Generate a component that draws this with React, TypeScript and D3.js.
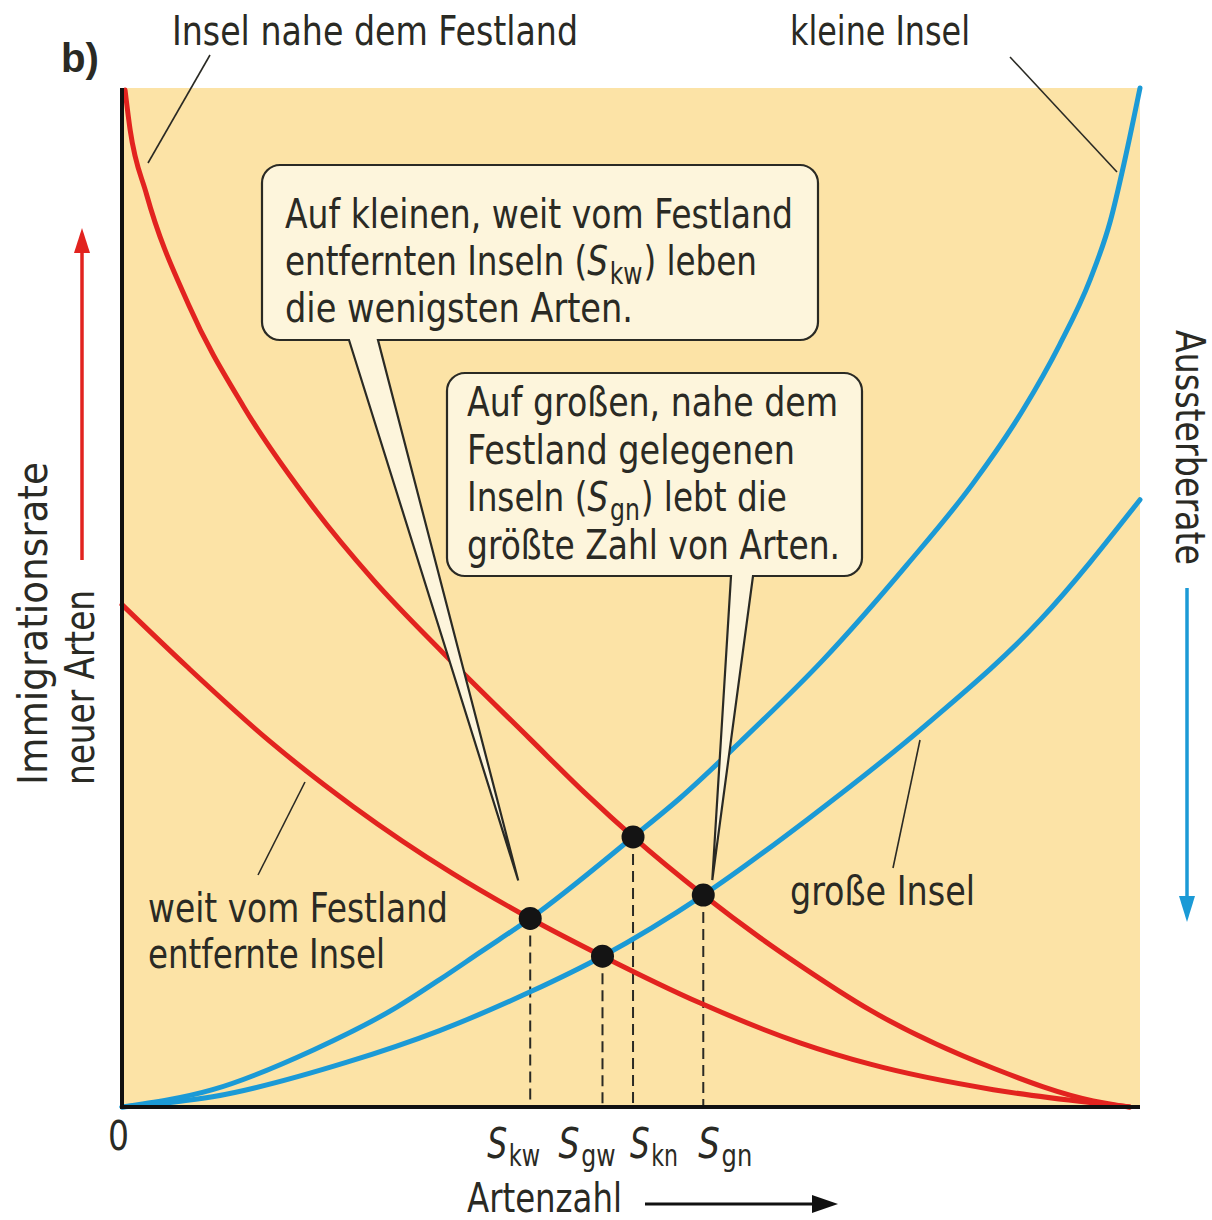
import React, { useEffect, useRef } from 'react'
import * as d3 from 'd3'

// Artenzahl (x) und Rate (y) in relativen Einheiten 0..100
// Immigrationsrate: Insel nahe dem Festland
const nearX = [0.3, 0.8, 2.4, 6.6, 11.9, 18.9, 24.7, 31.5, 40.0, 45.7, 50.2, 57.1, 62.7, 66.6, 73.5, 85.6, 95.4, 99.0]
const nearY = [99.8, 95.9, 89.6, 78.6, 68.8, 58.7, 51.7, 44.6, 36.2, 30.6, 26.5, 20.8, 16.6, 13.9, 9.5, 3.8, 0.6, 0]

// Immigrationsrate: weit vom Festland entfernte Insel
const farX = [0, 6.4, 14.5, 22.7, 32.5, 40.1, 47.2, 56.8, 66.6, 73.5, 85.6, 95.4, 99.0]
const farY = [49.3, 43.2, 35.9, 29.5, 22.9, 18.5, 14.8, 10.2, 6.3, 4.2, 1.7, 0.4, 0]

// Aussterberate: kleine Insel
const smallX = [0, 8.9, 18.8, 27.0, 31.2, 35.2, 40.1, 50.2, 54.8, 60.7, 68.9, 77.1, 83.6, 88.5, 92.1, 95.1, 97.1, 98.5, 100]
const smallY = [0, 1.7, 5.6, 9.8, 12.5, 15.2, 18.5, 26.5, 30.3, 35.8, 43.9, 53.2, 61.2, 68.4, 74.8, 81.2, 87.0, 92.9, 100]

// Aussterberate: große Insel
const largeX = [0, 8.9, 22.1, 31.2, 40.1, 47.2, 57.1, 67.3, 79.1, 90.2, 100]
const largeY = [0, 1.0, 4.4, 7.5, 11.3, 14.8, 20.8, 28.2, 37.6, 47.8, 59.6]

// Gleichgewichtspunkte
const eqNames = ['kw', 'gw', 'kn', 'gn']
const eqX = [40.1, 47.2, 50.2, 57.1]
const eqY = [18.5, 14.8, 26.5, 20.8]

const W = 1212
const H = 1220
const plot = { left: 122, top: 88, right: 1140, bottom: 1107 }

const FONT = "'Liberation Sans Narrow', 'DejaVu Sans Condensed', 'Arial Narrow', sans-serif"
const RED = '#e2231f'
const BLUE = '#1b9ad6'
const BG = '#fce3a6'
const INK = '#2a2a24'
const BUBBLE = '#fdf5dc'

type Seg = { t: string, i?: boolean, sub?: boolean }

const bubble1: Seg[][] = [
    [{ t: 'Auf kleinen, weit vom Festland' }],
    [{ t: 'entfernten Inseln (' }, { t: 'S', i: true }, { t: 'kw', sub: true }, { t: ') leben' }],
    [{ t: 'die wenigsten Arten.' }],
]
const bubble2: Seg[][] = [
    [{ t: 'Auf großen, nahe dem' }],
    [{ t: 'Festland gelegenen' }],
    [{ t: 'Inseln (' }, { t: 'S', i: true }, { t: 'gn', sub: true }, { t: ') lebt die' }],
    [{ t: 'größte Zahl von Arten.' }],
]
// Zeilenbreiten wie in der Vorlage
const bubble1Len = [508, 472, 348]
const bubble2Len = [371, 328, 320, 373]

export default function App() {
    const ref = useRef<SVGSVGElement>(null)

    useEffect(() => {
        const svg = d3.select(ref.current)
        svg.selectAll('*').remove()

        const x = d3.scaleLinear().domain([0, 100]).range([plot.left, plot.right])
        const y = d3.scaleLinear().domain([0, 100]).range([plot.bottom, plot.top])

        const line = d3.line<number[]>()
            .x(d => x(d[0]))
            .y(d => y(d[1]))
            .curve(d3.curveMonotoneX)

        // Hintergrund
        svg.append('rect')
            .attr('x', plot.left).attr('y', plot.top)
            .attr('width', plot.right - plot.left)
            .attr('height', plot.bottom - plot.top)
            .attr('fill', BG)

        // gestrichelte Lote
        svg.selectAll('line.drop')
            .data(eqX)
            .enter().append('line')
            .attr('class', 'drop')
            .attr('x1', d => x(d)).attr('x2', d => x(d))
            .attr('y1', (d, i) => y(eqY[i])).attr('y2', plot.bottom)
            .attr('stroke', INK).attr('stroke-width', 2)
            .attr('stroke-dasharray', '11,6')

        const curves = [
            { xs: farX, ys: farY, c: RED },
            { xs: nearX, ys: nearY, c: RED },
            { xs: largeX, ys: largeY, c: BLUE },
            { xs: smallX, ys: smallY, c: BLUE },
        ]
        curves.forEach(cv => {
            svg.append('path')
                .attr('d', line(cv.xs.map((v, i) => [v, cv.ys[i]])))
                .attr('fill', 'none')
                .attr('stroke', cv.c)
                .attr('stroke-width', 5)
                .attr('stroke-linecap', 'round')
        })

        // Sprechblasen
        const bubblePath = (x0, y0, x1, y1, r, bl, br, tx, ty) =>
            `M${x0 + r},${y0} H${x1 - r} A${r},${r} 0 0 1 ${x1},${y0 + r} V${y1 - r} A${r},${r} 0 0 1 ${x1 - r},${y1}` +
            ` H${br} L${tx},${ty} L${bl},${y1} H${x0 + r} A${r},${r} 0 0 1 ${x0},${y1 - r} V${y0 + r} A${r},${r} 0 0 1 ${x0 + r},${y0} Z`

        const drawText = (g, lines: Seg[][], lens: number[], tx, ty, lh, size) => {
            lines.forEach((ln, li) => {
                const t = g.append('text')
                    .attr('x', tx).attr('y', ty + li * lh)
                    .attr('font-family', FONT).attr('font-size', size)
                    .attr('fill', INK)
                    .attr('textLength', lens[li])
                    .attr('lengthAdjust', 'spacingAndGlyphs')
                let shifted = false
                ln.forEach(s => {
                    const sp = t.append('tspan').text(s.t)
                    if (s.i) sp.attr('font-style', 'italic')
                    if (s.sub) {
                        sp.attr('font-size', size * 0.72).attr('dy', size * 0.22).attr('dx', 2)
                        shifted = true
                    } else if (shifted) {
                        sp.attr('dy', -size * 0.22).attr('dx', 1)
                        shifted = false
                    }
                })
            })
        }

        const b1 = svg.append('g')
        b1.append('path')
            .attr('d', bubblePath(262, 165, 818, 340, 18, 349, 378, x(eqX[0]) - 12, y(eqY[0]) - 38))
            .attr('fill', BUBBLE).attr('stroke', INK).attr('stroke-width', 2.2)
        drawText(b1, bubble1, bubble1Len, 285, 228, 47, 41)

        const b2 = svg.append('g')
        b2.append('path')
            .attr('d', bubblePath(447, 373, 862, 576, 18, 731, 753, x(eqX[3]) + 9, y(eqY[3]) - 15))
            .attr('fill', BUBBLE).attr('stroke', INK).attr('stroke-width', 2.2)
        drawText(b2, bubble2, bubble2Len, 467, 416, 47.5, 41)

        // Achsen
        svg.append('line')
            .attr('x1', plot.left).attr('x2', plot.left)
            .attr('y1', plot.top).attr('y2', plot.bottom + 2)
            .attr('stroke', '#111').attr('stroke-width', 4)
        svg.append('line')
            .attr('x1', plot.left).attr('x2', plot.right)
            .attr('y1', plot.bottom).attr('y2', plot.bottom)
            .attr('stroke', '#111').attr('stroke-width', 4)

        // Punkte
        svg.selectAll('circle.eq')
            .data(eqX)
            .enter().append('circle')
            .attr('class', 'eq')
            .attr('cx', d => x(d))
            .attr('cy', (d, i) => y(eqY[i]))
            .attr('r', 11.5)
            .attr('fill', '#141414')

        // Beschriftung der x-Achse
        const labelShift = [-43, -44, -3, -5]
        const labelLen = [53, 57, 48, 54]
        eqNames.forEach((n, i) => {
            const t = svg.append('text')
                .attr('x', x(eqX[i]) + labelShift[i]).attr('y', 1158)
                .attr('font-family', FONT).attr('font-size', 42).attr('fill', INK)
                .attr('textLength', labelLen[i]).attr('lengthAdjust', 'spacingAndGlyphs')
            t.append('tspan').text('S').attr('font-style', 'italic')
            t.append('tspan').text(n).attr('font-size', 30).attr('dy', 8).attr('dx', 2)
        })

        const label = (tx, ty, s, len, transform?) => {
            const t = svg.append('text')
                .attr('font-family', FONT).attr('font-size', 40).attr('fill', INK)
                .attr('textLength', len).attr('lengthAdjust', 'spacingAndGlyphs')
                .text(s)
            if (transform) t.attr('transform', transform)
            else t.attr('x', tx).attr('y', ty)
            return t
        }

        label(108, 1150, '0', 21)
        label(467, 1212, 'Artenzahl', 155)
        svg.append('line')
            .attr('x1', 645).attr('x2', 816).attr('y1', 1204).attr('y2', 1204)
            .attr('stroke', '#111').attr('stroke-width', 3)
        svg.append('path').attr('d', 'M838,1204 L812,1195 L812,1213 Z').attr('fill', '#111')

        // y-Achse links
        label(0, 0, 'Immigrationsrate', 323, 'translate(47,785) rotate(-90)')
        label(0, 0, 'neuer Arten', 195, 'translate(94,785) rotate(-90)')
        svg.append('line')
            .attr('x1', 82).attr('x2', 82).attr('y1', 560).attr('y2', 248)
            .attr('stroke', RED).attr('stroke-width', 3.5)
        svg.append('path').attr('d', 'M82,228 L74,253 L90,253 Z').attr('fill', RED)

        // y-Achse rechts
        label(0, 0, 'Aussterberate', 235, 'translate(1176,330) rotate(90)')
        svg.append('line')
            .attr('x1', 1187).attr('x2', 1187).attr('y1', 588).attr('y2', 900)
            .attr('stroke', BLUE).attr('stroke-width', 3.5)
        svg.append('path').attr('d', 'M1187,922 L1179,896 L1195,896 Z').attr('fill', BLUE)

        // Kurvenbeschriftungen
        label(172, 45, 'Insel nahe dem Festland', 406)
        label(790, 45, 'kleine Insel', 180)
        label(148, 922, 'weit vom Festland', 300)
        label(148, 968, 'entfernte Insel', 237)
        label(790, 905, 'große Insel', 185)

        svg.append('text')
            .attr('x', 61).attr('y', 72)
            .attr('font-family', "'Liberation Sans', Arial, sans-serif")
            .attr('font-weight', 'bold').attr('font-size', 40).attr('fill', INK)
            .attr('textLength', 38).attr('lengthAdjust', 'spacingAndGlyphs')
            .text('b)')

        const leaders = [
            [210, 55, 148, 163],
            [1010, 57, 1117, 172],
            [305, 782, 258, 875],
            [920, 740, 893, 868],
        ]
        svg.selectAll('line.leader')
            .data(leaders)
            .enter().append('line')
            .attr('class', 'leader')
            .attr('x1', d => d[0]).attr('y1', d => d[1])
            .attr('x2', d => d[2]).attr('y2', d => d[3])
            .attr('stroke', INK).attr('stroke-width', 1.6)
    }, [])

    return (
        <svg ref={ref} width={W} height={H}
            style={{ position: 'absolute', left: 0, top: 0, background: '#fff' }} />
    )
}
